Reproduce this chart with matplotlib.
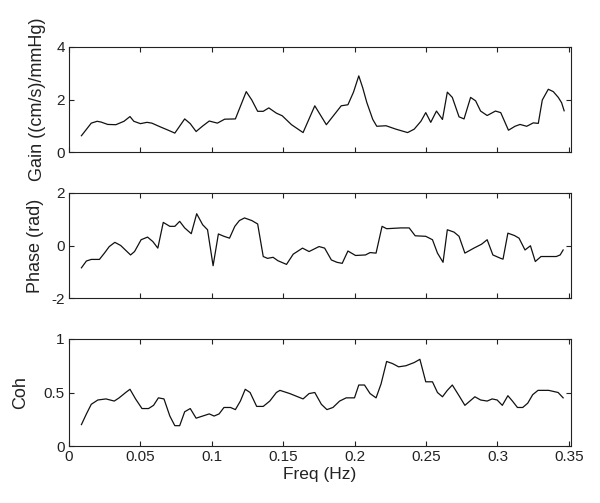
import matplotlib
matplotlib.use("Agg")
import matplotlib.pyplot as plt

plt.rcParams['font.family'] = ['Liberation Sans', 'DejaVu Sans']

# ---- data ----
gain_f = [0.0087, 0.0156, 0.0197, 0.0225, 0.0271, 0.0328, 0.0385, 0.0427, 0.0454, 0.0500,
          0.0546, 0.0580, 0.0638, 0.0695, 0.0741, 0.0810, 0.0849, 0.0890, 0.0936, 0.0982,
          0.1039, 0.1090, 0.1165, 0.1206, 0.1241, 0.1280, 0.1321, 0.1360, 0.1399, 0.1452,
          0.1493, 0.1558, 0.1639, 0.1721, 0.1802, 0.1906, 0.1953, 0.1992, 0.2029, 0.2057,
          0.2085, 0.2127, 0.2155, 0.2220, 0.2289, 0.2371, 0.2417, 0.2464, 0.2498, 0.2533,
          0.2573, 0.2615, 0.2649, 0.2684, 0.2731, 0.2766, 0.2812, 0.2847, 0.2882, 0.2928,
          0.2986, 0.3023, 0.3077, 0.3123, 0.3158, 0.3205, 0.3251, 0.3286, 0.3314, 0.3356,
          0.3391, 0.3426, 0.3449, 0.3467]
gain_v = [0.62, 1.10, 1.17, 1.14, 1.05, 1.04, 1.17, 1.35, 1.17, 1.08,
          1.13, 1.10, 0.96, 0.83, 0.72, 1.26, 1.08, 0.78, 0.99, 1.18,
          1.10, 1.25, 1.26, 1.82, 2.30, 1.98, 1.55, 1.55, 1.68, 1.48,
          1.38, 1.04, 0.74, 1.76, 1.04, 1.76, 1.80, 2.28, 2.90, 2.44,
          1.89, 1.24, 0.98, 1.00, 0.87, 0.74, 0.87, 1.17, 1.50, 1.13,
          1.56, 1.24, 2.28, 2.08, 1.34, 1.26, 2.08, 1.95, 1.56, 1.39,
          1.56, 1.50, 0.83, 0.98, 1.05, 0.98, 1.11, 1.09, 1.98, 2.39,
          2.30, 2.08, 1.88, 1.57]

phase_f = [0.0087, 0.0122, 0.0156, 0.0213, 0.0248, 0.0282, 0.0321, 0.0362, 0.0431, 0.0459,
           0.0505, 0.0550, 0.0587, 0.0622, 0.0660, 0.0706, 0.0741, 0.0775, 0.0810, 0.0856,
           0.0894, 0.0936, 0.0970, 0.1009, 0.1046, 0.1085, 0.1124, 0.1161, 0.1193, 0.1229,
           0.1280, 0.1321, 0.1360, 0.1390, 0.1429, 0.1463, 0.1523, 0.1570, 0.1635, 0.1681,
           0.1751, 0.1790, 0.1837, 0.1876, 0.1913, 0.1953, 0.2006, 0.2076, 0.2108, 0.2150,
           0.2192, 0.2224, 0.2324, 0.2382, 0.2424, 0.2498, 0.2545, 0.2580, 0.2619, 0.2649,
           0.2696, 0.2731, 0.2772, 0.2835, 0.2889, 0.2928, 0.2968, 0.3023, 0.3039, 0.3073,
           0.3119, 0.3151, 0.3193, 0.3231, 0.3265, 0.3305, 0.3412, 0.3439, 0.3460]
phase_v = [-0.85, -0.59, -0.53, -0.53, -0.29, -0.04, 0.12, 0.00, -0.36, -0.23,
           0.22, 0.32, 0.15, -0.10, 0.88, 0.73, 0.73, 0.92, 0.67, 0.45,
           1.21, 0.79, 0.60, -0.77, 0.44, 0.35, 0.28, 0.73, 0.95, 1.05,
           0.95, 0.82, -0.42, -0.49, -0.45, -0.58, -0.72, -0.33, -0.10, -0.23,
           -0.04, -0.10, -0.55, -0.64, -0.68, -0.21, -0.38, -0.36, -0.27, -0.29,
           0.73, 0.64, 0.67, 0.67, 0.37, 0.35, 0.22, -0.29, -0.64, 0.60,
           0.51, 0.35, -0.29, -0.10, 0.05, 0.22, -0.36, -0.49, -0.52, 0.47,
           0.38, 0.28, -0.17, -0.01, -0.61, -0.42, -0.42, -0.36, -0.17]

coh_f = [0.0087, 0.0122, 0.0156, 0.0202, 0.0259, 0.0317, 0.0351, 0.0397, 0.0427, 0.0466,
         0.0511, 0.0557, 0.0592, 0.0626, 0.0665, 0.0706, 0.0741, 0.0775, 0.0810, 0.0849,
         0.0890, 0.0936, 0.0982, 0.1016, 0.1051, 0.1085, 0.1131, 0.1165, 0.1200, 0.1234,
         0.1268, 0.1314, 0.1360, 0.1406, 0.1452, 0.1477, 0.1546, 0.1639, 0.1681, 0.1721,
         0.1767, 0.1806, 0.1848, 0.1895, 0.1941, 0.1999, 0.2029, 0.2069, 0.2108, 0.2150,
         0.2185, 0.2224, 0.2266, 0.2308, 0.2359, 0.2417, 0.2457, 0.2498, 0.2545, 0.2580,
         0.2615, 0.2649, 0.2684, 0.2731, 0.2772, 0.2807, 0.2842, 0.2882, 0.2928, 0.2963,
         0.2998, 0.3034, 0.3073, 0.3105, 0.3140, 0.3177, 0.3212, 0.3247, 0.3284, 0.3359,
         0.3425, 0.3460]
coh_v = [0.20, 0.30, 0.39, 0.43, 0.44, 0.42, 0.45, 0.50, 0.53, 0.44,
         0.35, 0.35, 0.38, 0.45, 0.44, 0.28, 0.19, 0.19, 0.32, 0.35,
         0.26, 0.28, 0.30, 0.28, 0.30, 0.36, 0.36, 0.34, 0.42, 0.53,
         0.50, 0.37, 0.37, 0.42, 0.50, 0.52, 0.49, 0.44, 0.49, 0.50,
         0.39, 0.34, 0.36, 0.42, 0.45, 0.45, 0.57, 0.57, 0.49, 0.45,
         0.58, 0.79, 0.77, 0.74, 0.75, 0.78, 0.81, 0.60, 0.60, 0.50,
         0.46, 0.52, 0.57, 0.47, 0.38, 0.42, 0.46, 0.43, 0.42, 0.44,
         0.43, 0.38, 0.47, 0.42, 0.36, 0.36, 0.40, 0.48, 0.52, 0.52,
         0.50, 0.45]

x_ticks = [0, 0.05, 0.1, 0.15, 0.2, 0.25, 0.3, 0.35]
x_tick_labels = ['0', '0.05', '0.1', '0.15', '0.2', '0.25', '0.3', '0.35']

panels = [
    (gain_f, gain_v, (0, 4), [0, 2, 4], ['0', '2', '4'], 'Gain ((cm/s)/mmHg)', -0.046),
    (phase_f, phase_v, (-2, 2), [-2, 0, 2], ['-2', '0', '2'], 'Phase (rad)', -0.050),
    (coh_f, coh_v, (0, 1), [0, 0.5, 1], ['0', '0.5', '1'], 'Coh', -0.080),
]

fig = plt.figure(figsize=(6.0, 5.03), dpi=100)
W, H = 600.0, 503.0
left_px, right_px = 69, 571
tops_bottoms = [(47, 152), (193, 298), (339, 446)]

txt_color = '#222222'
for i, ((fx, vy, ylim, yt, ytl, ylab, lx), (tp, bp)) in enumerate(zip(panels, tops_bottoms)):
    ax = fig.add_axes([left_px / W, 1 - bp / H, (right_px - left_px) / W, (bp - tp) / H])
    ax.plot(fx, vy, color='#111111', lw=0.9)
    ax.set_xlim(0, 0.3515)
    ax.set_ylim(*ylim)
    ax.set_xticks(x_ticks)
    ax.set_yticks(yt)
    ax.set_yticklabels(ytl)
    if i == 2:
        ax.set_xticklabels(x_tick_labels)
        ax.set_xlabel('Freq (Hz)', fontsize=12.5, color=txt_color, labelpad=2)
    else:
        ax.set_xticklabels([])
    ax.set_ylabel(ylab, fontsize=13, color=txt_color)
    ax.yaxis.set_label_coords(lx, 0.5)
    ax.tick_params(direction='in', top=True, right=True, length=3.5, width=0.8,
                   labelsize=11, colors='#222222', pad=3)
    for s in ax.spines.values():
        s.set_linewidth(0.8)
        s.set_color('#222222')

fig.savefig('out.png', dpi=100)
